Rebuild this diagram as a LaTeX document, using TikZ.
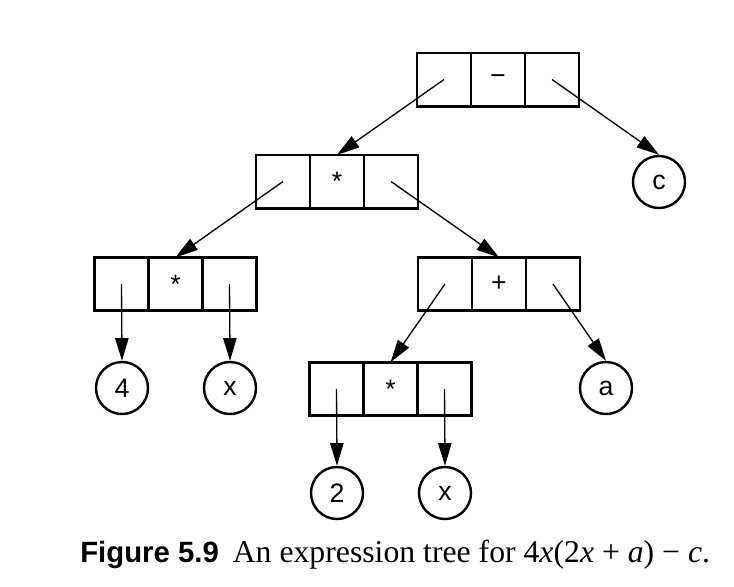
\documentclass[tikz,border=0pt]{standalone}
\usepackage{fontspec}
\setmainfont{Liberation Serif}
\setsansfont{Liberation Sans}
\usetikzlibrary{positioning,arrows.meta}

\begin{document}
\begin{tikzpicture}[
  x=0.75pt,y=-0.75pt,
  cell/.style={draw,line width=2pt,minimum width=40.5pt,minimum height=40pt,
    inner sep=0pt,outer sep=0pt,font=\sffamily\fontsize{20}{24}\selectfont},
  leaf/.style={draw,circle,line width=1.8pt,minimum size=39pt,inner sep=0pt,
    font=\sffamily\fontsize{20}{24}\selectfont},
  flow/.style={-{Triangle[length=17pt,width=10pt]},line width=1pt},
  figcap/.style={anchor=base west,inner sep=0pt,font=\fontsize{23.8}{28}\selectfont}
]
\useasboundingbox (0,0) rectangle (734,586);

% operator boxes: the middle cell holds the operator
\node[cell] (root) at (498,79.5) {−};
\node[cell,left=0pt of root] (root-l) {};
\node[cell,right=0pt of root] (root-r) {};

\node[cell] (times1) at (337,181.5) {*};
\node[cell,left=0pt of times1] (times1-l) {};
\node[cell,right=0pt of times1] (times1-r) {};

\node[cell] (times2) at (175.5,284) {*};
\node[cell,left=0pt of times2] (times2-l) {};
\node[cell,right=0pt of times2] (times2-r) {};

\node[cell] (plus) at (499,284) {+};
\node[cell,left=0pt of plus] (plus-l) {};
\node[cell,right=0pt of plus] (plus-r) {};

\node[cell] (times3) at (390.5,389) {*};
\node[cell,left=0pt of times3] (times3-l) {};
\node[cell,right=0pt of times3] (times3-r) {};

% operands
\node[leaf] (c) at (659,182) {c};
\node[leaf] (four) at (122,388) {4};
\node[leaf] (x1) at (230,388) {x};
\node[leaf] (a) at (606,388) {a};
\node[leaf] (two) at (337,493) {2};
\node[leaf] (x2) at (445,493) {x};

\draw[flow] (root-l.center) -- (times1.north);
\draw[flow] (root-r.center) -- (c.north);
\draw[flow] (times1-l.center) -- (times2.north);
\draw[flow] (times1-r.center) -- (plus.north);
\draw[flow] (times2-l.center) -- (four.north);
\draw[flow] (times2-r.center) -- (x1.north);
\draw[flow] (plus-l.center) -- (times3.north);
\draw[flow] (plus-r.center) -- (a.north);
\draw[flow] (times3-l.center) -- (two.north);
\draw[flow] (times3-r.center) -- (x2.north);

\node[figcap] (cap) at (80,562)
  {{\sffamily\bfseries\fontsize{22}{26}\selectfont Figure 5.9}\hspace{10.5pt}An expression tree for
   4\textit{x}(2\textit{x} + \textit{a}) − \textit{c}.};
\end{tikzpicture}
\end{document}
